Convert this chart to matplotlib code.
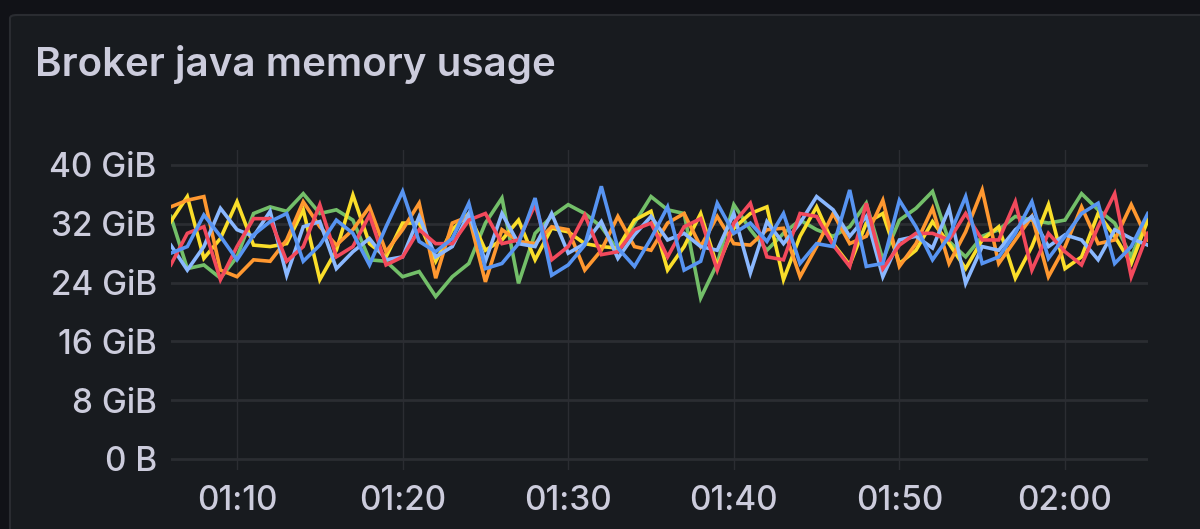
import matplotlib

matplotlib.use("Agg")

import matplotlib.dates as mdates  # noqa: E402
import matplotlib.pyplot as plt  # noqa: E402
import pandas as pd  # noqa: E402
from matplotlib.patches import FancyBboxPatch  # noqa: E402

plt.rcParams["font.family"] = ["Inter", "DejaVu Sans"]

# one sample per minute, 01:06 .. 02:05
times = pd.date_range("2024-01-01 01:06", periods=60, freq="min")

# values in GiB
green = [
    33.0, 25.9, 26.4, 24.6, 27.5, 33.4, 34.3, 33.7, 36.1, 33.4,
    33.9, 32.5, 27.1, 26.9, 24.8, 25.5, 22.1, 24.8, 26.6, 32.1,
    35.5, 23.9, 30.7, 33.0, 34.6, 33.4, 31.6, 28.4, 32.1, 35.7,
    33.9, 33.4, 21.9, 26.6, 34.6, 31.2, 28.4, 30.7, 32.5, 31.2,
    30.3, 31.6, 34.8, 27.1, 32.5, 34.1, 36.4, 29.6, 27.5, 30.3,
    31.2, 33.0, 32.5, 32.1, 32.5, 36.1, 33.9, 32.1, 27.5, 33.0,
]
yellow = [
    32.3, 35.7, 27.3, 30.0, 35.0, 29.1, 28.9, 29.3, 33.9, 24.4,
    28.4, 35.9, 29.3, 27.5, 32.1, 32.1, 26.9, 31.2, 33.4, 28.4,
    29.8, 32.5, 27.1, 31.4, 30.9, 29.3, 28.9, 28.7, 32.5, 33.7,
    25.7, 28.9, 33.4, 26.2, 31.4, 33.4, 34.3, 24.4, 30.3, 34.3,
    29.3, 26.4, 32.1, 33.4, 26.6, 28.4, 32.3, 29.3, 25.9, 29.8,
    31.6, 24.6, 28.9, 34.6, 25.9, 27.5, 33.4, 30.3, 26.6, 32.5,
]
orange = [
    34.3, 35.2, 35.7, 25.7, 24.8, 27.1, 26.9, 29.8, 35.0, 31.6,
    29.1, 31.2, 34.3, 28.2, 31.2, 34.8, 24.6, 32.1, 33.0, 24.1,
    31.2, 29.6, 29.3, 31.6, 31.2, 25.7, 28.4, 33.0, 28.9, 28.4,
    32.1, 33.4, 28.9, 33.0, 29.3, 29.1, 31.2, 31.4, 24.8, 28.9,
    33.4, 29.3, 30.3, 35.2, 26.2, 29.3, 34.1, 26.6, 30.9, 36.6,
    26.6, 29.8, 33.0, 24.8, 28.9, 34.3, 29.3, 29.8, 34.6, 29.8,
]
red = [
    26.4, 30.7, 31.6, 24.4, 28.9, 32.7, 32.7, 26.9, 28.9, 34.6,
    27.5, 28.9, 33.2, 26.4, 27.5, 31.2, 29.3, 29.3, 32.5, 33.4,
    29.3, 29.8, 34.6, 27.1, 28.9, 33.2, 27.8, 28.2, 31.2, 32.1,
    27.5, 31.6, 32.7, 25.7, 32.1, 34.8, 27.5, 27.1, 33.4, 33.0,
    29.1, 26.2, 34.8, 25.9, 29.1, 30.7, 30.7, 29.8, 33.4, 29.8,
    29.8, 35.0, 25.7, 30.7, 28.2, 26.4, 31.6, 36.1, 24.8, 30.7,
]
blue = [
    28.0, 28.9, 33.2, 30.3, 27.1, 30.5, 32.3, 33.4, 26.9, 29.1,
    32.5, 30.7, 26.4, 31.6, 36.4, 29.6, 28.2, 30.0, 34.8, 25.9,
    26.6, 29.3, 35.5, 25.0, 26.4, 29.1, 37.1, 28.7, 26.2, 30.0,
    34.3, 25.7, 26.9, 34.8, 30.7, 32.1, 29.6, 33.4, 26.6, 29.3,
    28.9, 36.6, 26.2, 26.6, 35.2, 31.6, 27.1, 30.3, 35.7, 26.6,
    27.5, 30.7, 35.0, 27.3, 30.3, 33.4, 34.8, 26.6, 28.9, 33.4,
]
light_blue = [
    29.1, 25.7, 28.9, 34.1, 31.2, 30.3, 33.7, 25.0, 31.6, 32.3,
    25.9, 28.2, 30.0, 27.1, 27.5, 33.0, 27.5, 28.9, 33.4, 26.9,
    33.4, 29.3, 28.9, 33.4, 28.0, 29.3, 32.3, 27.3, 30.5, 33.0,
    29.8, 30.7, 28.9, 28.4, 33.4, 25.3, 32.3, 29.3, 32.1, 35.7,
    33.9, 30.3, 33.0, 24.8, 29.8, 30.3, 28.7, 34.1, 23.9, 28.9,
    28.4, 31.2, 33.0, 28.9, 30.5, 29.8, 27.1, 31.2, 30.0, 29.1,
]

series = [
    (green, "#73bf69"),
    (yellow, "#fade2a"),
    (orange, "#ff9830"),
    (light_blue, "#8ab8ff"),
    (red, "#f2495c"),
    (blue, "#5794f2"),
]
y_ticks = [0, 8, 16, 24, 32, 40]
y_labels = ["0 B", "8 GiB", "16 GiB", "24 GiB", "32 GiB", "40 GiB"]

TEXT = "#ccccdc"
GRID = "#2b2d32"

fig = plt.figure(figsize=(12, 5.29), dpi=100)
fig.patch.set_facecolor("#111217")

# grafana panel
panel = FancyBboxPatch(
    (10 / 1200, -0.1), 1.2, (529 - 15) / 529 + 0.1,
    boxstyle="round,pad=0,rounding_size=0.006",
    transform=fig.transFigure, facecolor="#181b1f",
    edgecolor="#2a2c31", linewidth=1.5, zorder=-5,
)
fig.patches.append(panel)

fig.text(35 / 1200, 1 - 64 / 529, "Broker java memory usage",
         color=TEXT, fontsize=29, fontweight="semibold", va="center", ha="left")

ax = fig.add_axes([0.1423, 1 - 470 / 529, 0.9565 - 0.1423, (470 - 150) / 529])
ax.set_zorder(2)
ax.set_facecolor("none")

for values, color in series:
    ax.plot(times, values, color=color, linewidth=2.6, solid_joinstyle="miter")

ax.set_xlim(times[0], times[-1])
ax.set_ylim(-1.5, 42.04)
ax.set_yticks(y_ticks)
ax.set_yticklabels(y_labels)
ax.xaxis.set_major_locator(mdates.MinuteLocator(byminute=[0, 10, 20, 30, 40, 50]))
ax.xaxis.set_major_formatter(mdates.DateFormatter("%H:%M"))

ax.tick_params(axis="both", length=0, colors=TEXT, labelsize=24)
ax.tick_params(axis="y", pad=10)
ax.tick_params(axis="x", pad=11)
for label in ax.get_xticklabels() + ax.get_yticklabels():
    label.set_fontweight("medium")
ax.grid(axis="y", color=GRID, linewidth=2)
ax.grid(axis="x", color=GRID, linewidth=1)
ax.set_axisbelow(True)
for spine in ax.spines.values():
    spine.set_visible(False)

plt.savefig("out.png", dpi=100, facecolor=fig.get_facecolor())
plt.close()
